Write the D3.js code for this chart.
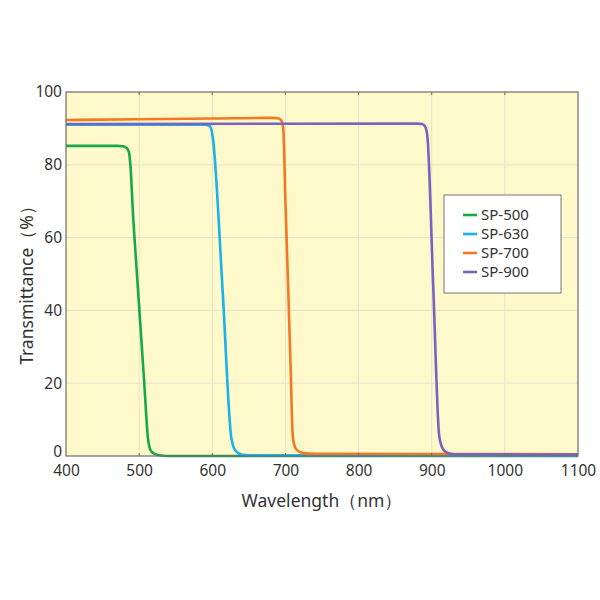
<!DOCTYPE html>
<html><head><meta charset="utf-8">
<script src="https://cdn.jsdelivr.net/npm/d3@7"></script>
<style>body{margin:0;background:#fff}svg{display:block}</style>
</head><body>
<svg id="c" width="600" height="600"></svg>
<script>
const seriesNames = ["SP-500","SP-630","SP-700","SP-900"];
const seriesColors = ["#17a84c","#1ab2ea","#f5781f","#7b62c0"];
const xTicks = [400,500,600,700,800,900,1000,1100];
const yTicks = [0,20,40,60,80,100];

const sp500_wl = [400,470,478,483,486,488,492,497,502,507,512,514,517,522,530,545,1100];
const sp500_t  = [85.2,85.2,85.1,84.6,83.5,80,65,50,35,20,5,2.5,1.2,0.5,0.15,0,0];
const sp630_wl = [400,590,596,599,601,614,626,629,633,640,650,1100];
const sp630_t  = [91,91,90.7,89.5,87,46,5,2.5,1.2,0.4,0.2,0.1];
const sp700_wl = [400,500,600,680,690,694,697,700,703,707,710,713,718,725,740,1100];
const sp700_t  = [92.3,92.5,92.7,92.9,92.8,92.3,90,70,51,25,5.5,2.5,1.3,0.8,0.6,0.5];
const sp900_wl = [400,880,887,891,894,902,910,913,917,922,930,1100];
const sp900_t  = [91.2,91.3,91.2,90.5,88,47,6,3,1.5,0.8,0.5,0.4];

const series = [
  {name:seriesNames[0], color:seriesColors[0], pts:d3.zip(sp500_wl, sp500_t)},
  {name:seriesNames[1], color:seriesColors[1], pts:d3.zip(sp630_wl, sp630_t)},
  {name:seriesNames[2], color:seriesColors[2], pts:d3.zip(sp700_wl, sp700_t)},
  {name:seriesNames[3], color:seriesColors[3], pts:d3.zip(sp900_wl, sp900_t)}
];

const svg = d3.select("#c");
const L=66, R=578, T=92, B=456;
const x = d3.scaleLinear().domain([400,1100]).range([L,R]);
const y = d3.scaleLinear().domain([0,100]).range([B,T]);
const font = "'Noto Sans', 'DejaVu Sans', sans-serif";

svg.append("rect").attr("x",L).attr("y",T).attr("width",R-L).attr("height",B-T).attr("fill","#fdf9cb");

// grid
svg.append("g").selectAll("line").data(xTicks.slice(1,-1)).join("line")
  .attr("x1",d=>x(d)).attr("x2",d=>x(d)).attr("y1",T).attr("y2",B)
  .attr("stroke","#e4e2cc").attr("stroke-width",1);
svg.append("g").selectAll("line").data(yTicks.slice(1,-1)).join("line")
  .attr("y1",d=>y(d)).attr("y2",d=>y(d)).attr("x1",L).attr("x2",R)
  .attr("stroke","#e4e2cc").attr("stroke-width",1);

// curves
const line = d3.line().x(d=>x(d[0])).y(d=>y(d[1])).curve(d3.curveMonotoneX);
svg.append("g").selectAll("path").data(series).join("path")
  .attr("d",d=>line(d.pts)).attr("fill","none").attr("stroke",d=>d.color)
  .attr("stroke-width",2.6).attr("stroke-linejoin","round");

// frame
svg.append("rect").attr("x",L).attr("y",T).attr("width",R-L).attr("height",B-T)
  .attr("fill","none").attr("stroke","#6b6b6b").attr("stroke-width",1.2);

// axes
const xAxis = svg.append("g").attr("transform",`translate(0,${B})`)
  .call(d3.axisBottom(x).tickValues(xTicks).tickFormat(d3.format("d")).tickSize(0).tickPadding(9));
xAxis.select(".domain").remove();
xAxis.selectAll("text").attr("font-family",font).attr("font-size",15.5).attr("fill","#333");
const yAxis = svg.append("g").attr("transform",`translate(${L},0)`)
  .call(d3.axisLeft(y).tickValues(yTicks).tickFormat(d3.format("d")).tickSize(0).tickPadding(4));
yAxis.select(".domain").remove();
yAxis.selectAll("text").attr("font-family",font).attr("font-size",15.5).attr("fill","#333");
yAxis.selectAll(".tick").filter(d=>d===0).select("text").attr("dy","0em");
// small top/bottom ticks
svg.append("g").selectAll("line").data(xTicks.slice(1,-1)).join("line")
  .attr("x1",d=>x(d)).attr("x2",d=>x(d)).attr("y1",T).attr("y2",T+3)
  .attr("stroke","#6b6b6b");
svg.append("g").selectAll("line").data(xTicks.slice(1,-1)).join("line")
  .attr("x1",d=>x(d)).attr("x2",d=>x(d)).attr("y1",B).attr("y2",B-3)
  .attr("stroke","#6b6b6b");

// labels
svg.append("text").attr("x",322).attr("y",507).attr("text-anchor","middle")
  .attr("font-family",font).attr("font-size",17.5).attr("fill","#333").text("Wavelength（nm）");
svg.append("text").attr("transform","translate(33,281) rotate(-90)").attr("text-anchor","middle")
  .attr("font-family",font).attr("font-size",17.5).attr("fill","#333").text("Transmittance（%）");

// legend
const lg = svg.append("g");
lg.append("rect").attr("x",444).attr("y",195).attr("width",117).attr("height",98)
  .attr("fill","#fff").attr("stroke","#777").attr("stroke-width",1);
const rows = lg.selectAll("g").data(series).join("g")
  .attr("transform",(d,i)=>`translate(0,${215+i*19})`);
rows.append("line").attr("x1",463).attr("x2",477).attr("y1",0).attr("y2",0)
  .attr("stroke",d=>d.color).attr("stroke-width",2.6);
rows.append("text").attr("x",481).attr("y",0).attr("dy","0.35em")
  .attr("font-family",font).attr("font-size",15).attr("fill","#333").text(d=>d.name);
</script>
</body></html>
